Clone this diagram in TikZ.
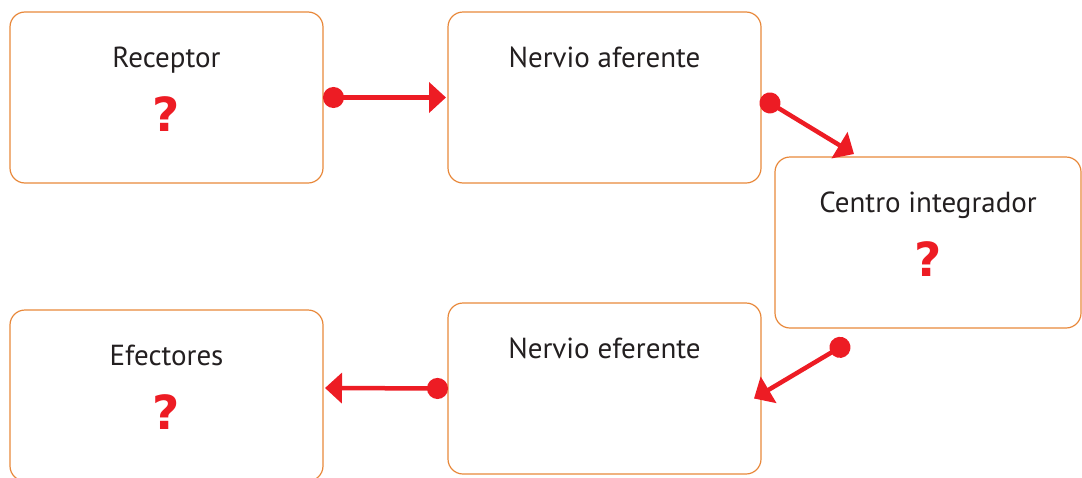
\documentclass[tikz,border=0pt]{standalone}
\usepackage{fontspec}
\setmainfont{PT Sans}
\newfontfamily\rfHeavy{DejaVu Sans}
\usetikzlibrary{positioning, arrows.meta}
\definecolor{rfBorder}{HTML}{E8883A}
\definecolor{rfRed}{HTML}{ED1C24}
\definecolor{rfText}{HTML}{231F20}
\tikzset{
    rfBox/.style={
        rectangle,
        draw=rfBorder,
        line width=1.2pt,
        rounded corners=15pt,
        minimum width=313pt,
        minimum height=171pt,
        inner sep=0pt,
        outer sep=0pt
    },
    rfTitle/.style={
        font=\fontsize{29}{33}\selectfont,
        text=rfText,
        anchor=base,
        inner sep=0pt
    },
    rfQuery/.style={
        font=\rfHeavy\fontsize{47}{50}\selectfont\bfseries,
        text=rfRed,
        anchor=base,
        inner sep=0pt
    },
    % Arrows
    rfLink/.style={
        line width=4.5pt,
        draw=rfRed,
        arrows={Circle[length=21pt]}-{Triangle[length=17pt, width=30pt]}
    }
}

\begin{document}
\begin{tikzpicture}[x=1pt, y=1pt]
    \useasboundingbox (0,0) rectangle (1082,-477);

    \node[rfBox, anchor=north west] (receptor) at (10,-12) {};
    \node[rfBox, right=125pt of receptor] (aferente) {};
    \node[rfBox, minimum width=306pt, below right=-26pt and 14pt of aferente] (centro) {};
    \node[rfBox, below=120pt of aferente] (eferente) {};
    \node[rfBox, below left=7pt and 125pt of eferente.north west] (efectores) {};

    \node[rfTitle] (receptorTitle) at ([yshift=-55pt]receptor.north) {Receptor};
    \node[rfQuery] (receptorQuery) at ([yshift=-119pt]receptor.north) {?};
    \node[rfTitle] (aferenteTitle) at ([yshift=-55pt]aferente.north) {Nervio aferente};
    \node[rfTitle] (centroTitle) at ([yshift=-55pt]centro.north) {Centro integrador};
    \node[rfQuery] (centroQuery) at ([yshift=-119pt]centro.north) {?};
    \node[rfTitle] (eferenteTitle) at ([yshift=-55pt]eferente.north) {Nervio eferente};
    \node[rfTitle] (efectoresTitle) at ([yshift=-55pt]efectores.north) {Efectores};
    \node[rfQuery] (efectoresQuery) at ([yshift=-119pt]efectores.north) {?};

    \draw[rfLink] (receptor.east) -- ([xshift=-2pt]aferente.west);
    \draw[rfLink] (aferente.east) -- ([xshift=79pt, yshift=3pt]centro.north west);
    \draw[rfLink] ([xshift=74pt, yshift=-14pt]centro.south west) -- ([xshift=-7pt, yshift=-10pt]eferente.east);
    \draw[rfLink] (eferente.west) -- ([xshift=2pt, yshift=7.5pt]efectores.east);
\end{tikzpicture}
\end{document}
